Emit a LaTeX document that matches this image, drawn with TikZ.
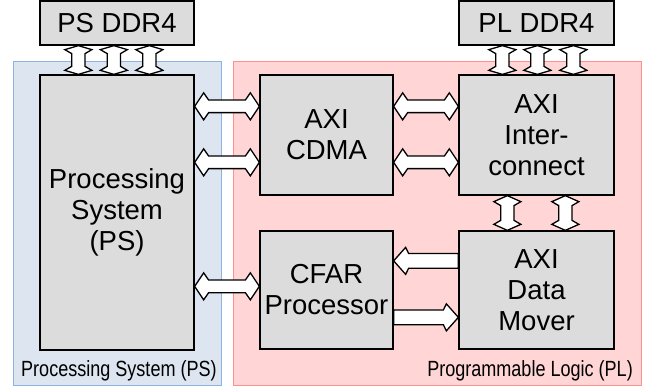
\documentclass[tikz,border=0pt]{standalone}
\usepackage{fontspec}
\setmainfont{Liberation Sans}
\newfontfamily\narrowfont{Liberation Sans}[FakeStretch=0.82]
\usetikzlibrary{calc}

\definecolor{psfill}{HTML}{DCE5F0}
\definecolor{psline}{HTML}{8DB3E2}
\definecolor{plfill}{HTML}{FFD5D5}
\definecolor{plline}{HTML}{FF9090}
\definecolor{blockfill}{HTML}{DCDCDC}

\tikzset{
  region/.style={draw, line width=1pt, inner sep=0pt},
  block/.style={draw=black, fill=blockfill, line width=1.3pt, inner sep=0pt,
    align=center, font=\fontsize{27.5}{31}\selectfont},
  grouplabel/.style={inner sep=0pt, font=\narrowfont\fontsize{22}{24}\selectfont},
  fatarrow/.style={draw=black, fill=white, line width=1.3pt, line join=miter},
}

% horizontal double arrow between #1 (left) and #2 (right);
% #3 = distance from tip to widest point, #4 = distance from tip to shaft
\newcommand\hboth[4]{%
  \draw[fatarrow] let \p1=#1, \p2=#2 in
    (\x1,\y1) -- (\x1+#3,\y1+13.5pt) -- (\x1+#4,\y1+6.3pt)
    -- (\x2-#4,\y1+6.3pt) -- (\x2-#3,\y1+13.5pt) -- (\x2,\y1)
    -- (\x2-#3,\y1-13.5pt) -- (\x2-#4,\y1-6.3pt)
    -- (\x1+#4,\y1-6.3pt) -- (\x1+#3,\y1-13.5pt) -- cycle;}

% vertical double arrow between #1 (top) and #2 (bottom)
\newcommand\vboth[4]{%
  \draw[fatarrow] let \p1=#1, \p2=#2 in
    (\x1,\y1) -- (\x1+13.5pt,\y1-#3) -- (\x1+6.6pt,\y1-#4)
    -- (\x1+6.6pt,\y2+#4) -- (\x1+13.5pt,\y2+#3) -- (\x1,\y2)
    -- (\x1-13.5pt,\y2+#3) -- (\x1-6.6pt,\y2+#4)
    -- (\x1-6.6pt,\y1-#4) -- (\x1-13.5pt,\y1-#3) -- cycle;}

% single arrow from #1 to #2, pointing right
\newcommand\rsingle[2]{%
  \draw[fatarrow] let \p1=#1, \p2=#2 in
    (\x1,\y1+7.3pt) -- (\x2-15pt,\y1+7.3pt) -- (\x2-12pt,\y1+13.5pt)
    -- (\x2,\y1) -- (\x2-12pt,\y1-13.5pt) -- (\x2-15pt,\y1-7.3pt)
    -- (\x1,\y1-7.3pt) -- cycle;}

% single arrow from #1 to #2, pointing left
\newcommand\lsingle[2]{%
  \draw[fatarrow] let \p1=#1, \p2=#2 in
    (\x1,\y1+7.3pt) -- (\x2+15pt,\y1+7.3pt) -- (\x2+12pt,\y1+13.5pt)
    -- (\x2,\y1) -- (\x2+12pt,\y1-13.5pt) -- (\x2+15pt,\y1-7.3pt)
    -- (\x1,\y1-7.3pt) -- cycle;}

\begin{document}
\begin{tikzpicture}[x=1pt,y=-1pt]
\useasboundingbox (0,0) rectangle (647,387);

% the two device regions
\node[region, draw=psline, fill=psfill, minimum width=208, minimum height=323]
  (psreg) at (117,223.5) {};
\node[region, draw=plline, fill=plfill, minimum width=408, minimum height=323]
  (plreg) at (437,223.5) {};
\node[grouplabel, anchor=base west] (pslabel) at (21,376) {Processing System (PS)};
\node[grouplabel, anchor=base east] (pllabel) at (633,376) {Programmable Logic (PL)};

% memories and blocks
\node[block, minimum width=154, minimum height=44] (psddr) at (117,23) {PS DDR4};
\node[block, minimum width=155, minimum height=44] (plddr) at (536.5,23) {PL DDR4};
\node[block, minimum width=154, minimum height=275] (ps) at (117,212.5)
  {Processing\\System\\(PS)};
\node[block, minimum width=133, minimum height=120] (cdma) at (326.5,135)
  {AXI\\CDMA};
\node[block, minimum width=155, minimum height=120] (ic) at (536.5,135)
  {AXI\\Inter-\\connect};
\node[block, minimum width=133, minimum height=118] (cfar) at (326.5,290)
  {CFAR\\Processor};
\node[block, minimum width=155, minimum height=118] (dm) at (536.5,290)
  {AXI\\Data\\Mover};

% PS DDR4 <-> PS
\foreach \dx/\k in {39/a,74.5/b,110/c}{
  \coordinate (psm\k) at ($(ps.north west)+(\dx,0)$);
  \vboth{(psddr.south -| psm\k)}{(psm\k)}{4pt}{8pt}
}
% PL DDR4 <-> interconnect
\foreach \dx/\k in {44/a,79/b,115/c}{
  \coordinate (plm\k) at ($(ic.north west)+(\dx,0)$);
  \vboth{(plddr.south -| plm\k)}{(plm\k)}{4pt}{8pt}
}
% interconnect <-> data mover
\foreach \dx/\k in {49/a,107/b}{
  \coordinate (icm\k) at ($(ic.south west)+(\dx,0)$);
  \vboth{(icm\k)}{(dm.north -| icm\k)}{6pt}{10pt}
}

% PS <-> CDMA <-> interconnect
\foreach \dy/\k in {32/a,88/b}{
  \coordinate (cd\k) at ($(cdma.north west)+(0,\dy)$);
  \coordinate (ce\k) at ($(cdma.north east)+(0,\dy)$);
  \hboth{(ps.east |- cd\k)}{(cd\k)}{9pt}{14pt}
  \hboth{(ce\k)}{(ic.west |- ce\k)}{9pt}{14pt}
}

% PS <-> CFAR
\coordinate (cfin) at ($(cfar.north west)+(0,56)$);
\hboth{(ps.east |- cfin)}{(cfin)}{9pt}{14pt}

% data mover <-> CFAR
\coordinate (dmout) at ($(dm.north west)+(0,30.5)$);
\lsingle{(dmout)}{(cfar.east |- dmout)}
\coordinate (cfout) at ($(cfar.north east)+(0,87)$);
\rsingle{(cfout)}{(dm.west |- cfout)}
\end{tikzpicture}
\end{document}
